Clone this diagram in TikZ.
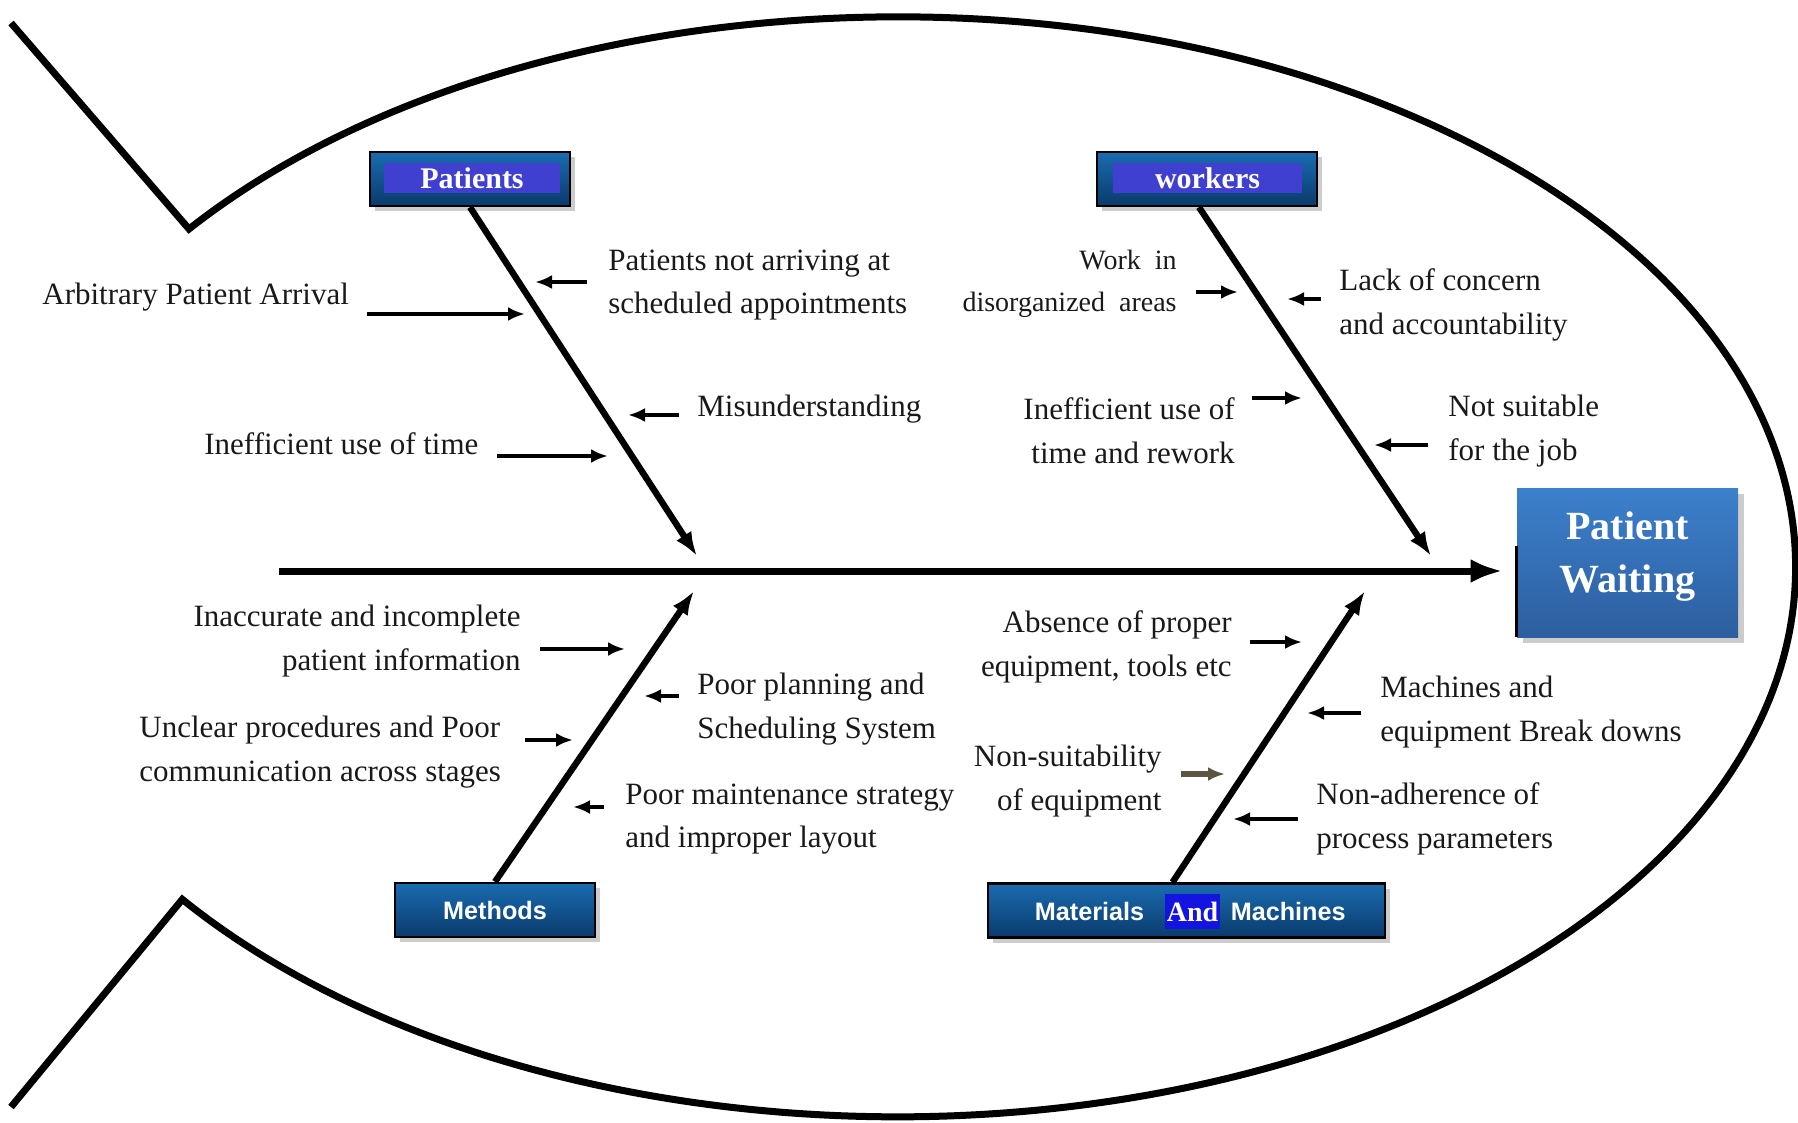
\documentclass[tikz,border=0pt]{standalone}
\usepackage{fontspec}
\setmainfont{Liberation Serif}
\setsansfont{Liberation Sans}
\usetikzlibrary{arrows, arrows.meta, positioning, shadows}

\definecolor{boxtop}{HTML}{1A6CB0}
\definecolor{boxbot}{HTML}{0A3A6C}
\definecolor{tagblue}{HTML}{3F3FD0}
\definecolor{headtop}{HTML}{3C80CC}
\definecolor{headbot}{HTML}{2D5E9F}
\definecolor{andblue}{HTML}{1414E0}
\definecolor{olivearrow}{HTML}{5A5440}

\begin{document}
\begin{tikzpicture}[
    x=0.5pt, y=-0.5pt,
    outline/.style={line width=3.5pt, line join=miter},
    spine/.style={draw, line width=3.5pt, -{Latex[length=16pt, width=12pt]}},
    bone/.style={draw, line width=3.2pt, -{Latex[length=12pt, width=9pt]}},
    line/.style={draw, line width=1.7pt, -{Latex[length=8.5pt, width=7pt]}},
    cause/.style={font=\fontsize{15.5}{21.8}\selectfont, text=black!90, inner sep=0pt},
    catbox/.style={rectangle, draw=black, line width=1.2pt, top color=boxtop, bottom color=boxbot, minimum height=27pt, inner sep=0pt, drop shadow={shadow xshift=2.5pt, shadow yshift=-2.5pt, opacity=0.4}},
    tag/.style={rectangle, fill=tagblue, text=white, font=\fontsize{15}{15}\selectfont\bfseries, minimum height=15pt, inner sep=0pt},
    cattext/.style={text=white, font=\sffamily\bfseries\fontsize{12.6}{12.6}\selectfont, inner sep=0pt},
    head/.style={rectangle, top color=headtop, bottom color=headbot, minimum width=110.5pt, minimum height=74.5pt, drop shadow={shadow xshift=3pt, shadow yshift=-3pt, opacity=0.4}},
    headtext/.style={text=white, align=center, font=\fontsize{20}{26.5}\selectfont\bfseries, inner sep=0pt}
]
    \useasboundingbox (0,0) rectangle (1798,1123);

    % Fish outline
    \draw[outline] (11,23) -- (189,229) arc[start angle=217.9, end angle=502.8, x radius=898, y radius=550] -- (11,1107);

    % Head and categories
    \node [head] (waiting) at (1627.5,562.5) {};
    \node [headtext] (waitingtext) at (1627.5,557) {Patient\\Waiting};
    \draw [black, line width=1.5pt] ([yshift=-29pt]waiting.north west) -- (waiting.south west);

    \node [catbox, minimum width=100pt] (patients) at (470,179) {};
    \node [tag, minimum width=88pt] (patientstag) at (472,178) {Patients};
    \node [catbox, minimum width=110pt] (workers) at (1207,179) {};
    \node [tag, minimum width=94.5pt] (workerstag) at (1207.5,178) {workers};
    \node [catbox, minimum width=100pt] (methods) at (495,910) {};
    \node [cattext] at (methods) {Methods};
    \node [catbox, minimum width=198.5pt] (matmach) at (1186.5,910.5) {};
    \node [rectangle, fill=andblue, text=white, font=\fontsize{14}{14}\selectfont\bfseries, minimum width=27.5pt, minimum height=17.5pt, inner sep=0pt] (and) at (1192.5,911.5) {And};
    \node [cattext, left=10pt of and] (materials) {Materials};
    \node [cattext, right=5pt of and] (machines) {Machines};

    % Spine and bones
    \coordinate (tail) at (279,571);
    \coordinate (pj) at (697,556);
    \coordinate (wj) at (1431,556);
    \coordinate (mj) at (694,591);
    \coordinate (xj) at (1365,591);
    \path [spine, shorten >=7pt] (tail) -- (tail -| waiting.west);
    \path [bone] (patients.south) -- (pj);
    \path [bone] ([xshift=-4pt]workers.south) -- (wj);
    \path [bone] (methods.north) -- (mj);
    \path [bone] ([xshift=-7pt]matmach.north) -- (xj);

    % Causes
    \node [cause, anchor=west] (arrival) at (42,297) {Arbitrary Patient Arrival};
    \node [cause, anchor=west, align=left] (notarrive) at (608,285) {Patients not arriving at\\scheduled appointments};
    \node [cause, anchor=west] (misunder) at (697,409) {Misunderstanding};
    \node [cause, anchor=west] (ineftime) at (204,444) {Inefficient use of time};

    \node [cause, anchor=east, align=right, font=\fontsize{14}{21}\selectfont] (workin) at (1177,284) {Work\ \ in\\disorganized\ \ areas};
    \node [cause, anchor=west, align=left] (lack) at (1339,305) {Lack of concern\\and accountability};
    \node [cause, anchor=east, align=right] (inefrework) at (1235,431) {Inefficient use of\\time and rework};
    \node [cause, anchor=west, align=left] (notsuit) at (1448,431) {Not suitable\\for the job};

    \node [cause, anchor=east, align=right] (inaccurate) at (521,641) {Inaccurate and incomplete\\patient information};
    \node [cause, anchor=west, align=left] (unclear) at (139,752) {Unclear procedures and Poor\\communication across stages};
    \node [cause, anchor=west, align=left] (poorplan) at (697,709) {Poor planning and\\Scheduling System};
    \node [cause, anchor=west, align=left] (poormaint) at (625,819) {Poor maintenance strategy\\and improper layout};

    \node [cause, anchor=east, align=right] (absence) at (1232,647) {Absence of proper\\equipment, tools etc};
    \node [cause, anchor=west, align=left] (breakdowns) at (1380,712) {Machines and\\equipment Break downs};
    \node [cause, anchor=east, align=right] (nonsuit) at (1162,781) {Non-suitability\\of equipment};
    \node [cause, anchor=west, align=left] (nonadh) at (1316,819) {Non-adherence of\\process parameters};

    % Cause arrows
    \coordinate (a1s) at (367,314);  \coordinate (a1e) at (525,314);
    \coordinate (a2s) at (587,282);  \coordinate (a2e) at (535,282);
    \coordinate (a3s) at (679,415);  \coordinate (a3e) at (628,415);
    \coordinate (a4s) at (497,456);  \coordinate (a4e) at (608,456);
    \coordinate (b1s) at (1196,292); \coordinate (b1e) at (1238,292);
    \coordinate (b2s) at (1321,299); \coordinate (b2e) at (1287,299);
    \coordinate (b3s) at (1252,398); \coordinate (b3e) at (1302,398);
    \coordinate (b4s) at (1428,445); \coordinate (b4e) at (1374,445);
    \coordinate (c1s) at (540,649);  \coordinate (c1e) at (625,649);
    \coordinate (c2s) at (525,740);  \coordinate (c2e) at (573,740);
    \coordinate (c3s) at (679,696);  \coordinate (c3e) at (644,696);
    \coordinate (c4s) at (604,807);  \coordinate (c4e) at (573,807);
    \coordinate (d1s) at (1250,642); \coordinate (d1e) at (1302,642);
    \coordinate (d2s) at (1361,713); \coordinate (d2e) at (1307,713);
    \coordinate (d3s) at (1181,774); \coordinate (d3e) at (1225,774);
    \coordinate (d4s) at (1298,819); \coordinate (d4e) at (1233,819);

    \path [line] (a1s) -- (a1e);
    \path [line] (a2s) -- (a2e);
    \path [line] (a3s) -- (a3e);
    \path [line] (a4s) -- (a4e);
    \path [line] (b1s) -- (b1e);
    \path [line] (b2s) -- (b2e);
    \path [line] (b3s) -- (b3e);
    \path [line] (b4s) -- (b4e);
    \path [line] (c1s) -- (c1e);
    \path [line] (c2s) -- (c2e);
    \path [line] (c3s) -- (c3e);
    \path [line] (c4s) -- (c4e);
    \path [line] (d1s) -- (d1e);
    \path [line] (d2s) -- (d2e);
    \path [line, draw=olivearrow, line width=2.8pt] (d3s) -- (d3e);
    \path [line] (d4s) -- (d4e);
\end{tikzpicture}
\end{document}
